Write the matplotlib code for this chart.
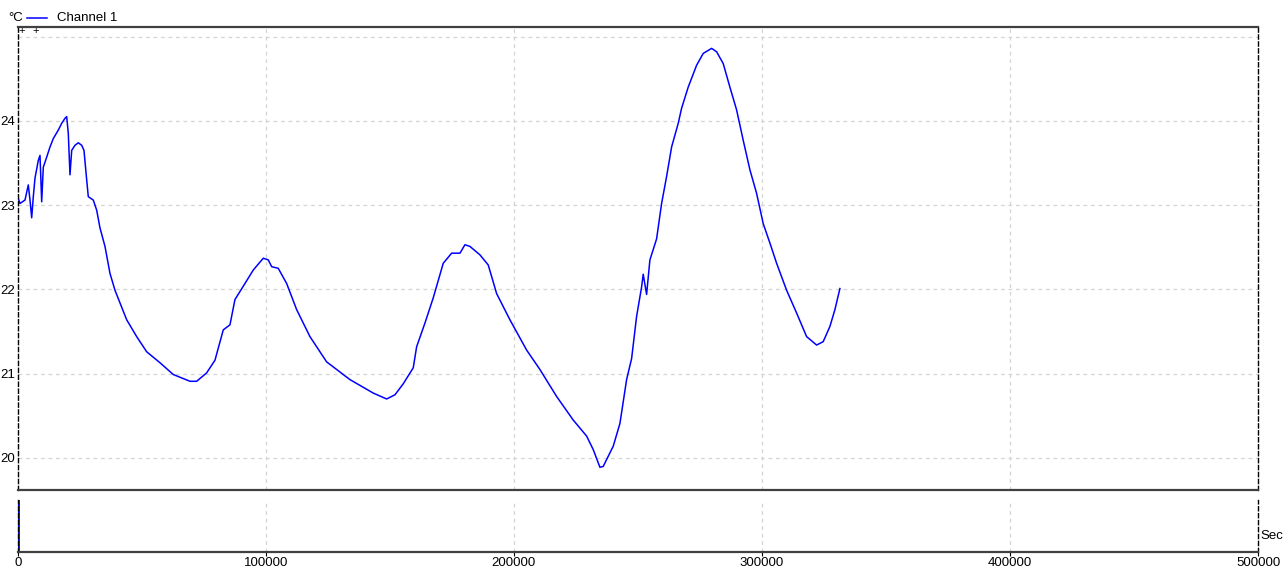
import matplotlib
matplotlib.use("Agg")
import matplotlib.pyplot as plt

plt.rcParams['font.family'] = ['Liberation Sans Narrow', 'Liberation Sans', 'DejaVu Sans']

# Channel 1 readings: time in seconds, temperature in deg C
time_s = [0, 900, 2940, 4270, 4960, 5640, 6290, 6970, 8300, 8990, 9670, 10320,
          11690, 13020, 14350, 16360, 17730, 19060, 19750, 20400, 21080, 21770,
          23090, 24430, 25800, 26720, 27810, 28460, 30470, 31840, 33170, 35190,
          37200, 39220, 41230, 43930, 47960, 52000, 57350, 62720, 69450, 72150,
          76180, 79520, 82870, 85570, 87580, 91610, 94960, 98990, 101000, 102380,
          105040, 108420, 112450, 117810, 124540, 133930, 143330, 148730, 152080,
          155420, 159450, 160820, 164160, 167510, 171540, 174930, 178280, 180290,
          182310, 186340, 189680, 193070, 198420, 205160, 210510, 217240, 223940,
          229340, 232000, 234700, 236030, 240070, 242770, 245460, 247480, 249490,
          251510, 252150, 253520, 254850, 257550, 259570, 261580, 263600, 266260,
          267630, 270290, 273680, 276340, 279720, 281740, 284400, 287100, 289800,
          292460, 295160, 297860, 300530, 303230, 305930, 309960, 313990, 318020,
          322050, 324710, 327410, 329430, 331440]
temp_c = [23.10, 23.02, 23.06, 23.24, 23.06, 22.85, 23.10, 23.32, 23.53, 23.59,
          23.04, 23.45, 23.57, 23.69, 23.79, 23.89, 23.97, 24.03, 24.05, 23.85,
          23.36, 23.65, 23.71, 23.74, 23.71, 23.65, 23.30, 23.10, 23.06, 22.94,
          22.73, 22.51, 22.19, 21.99, 21.84, 21.64, 21.44, 21.26, 21.13, 20.99,
          20.91, 20.91, 21.01, 21.16, 21.52, 21.58, 21.88, 22.07, 22.23, 22.37,
          22.35, 22.27, 22.25, 22.07, 21.76, 21.44, 21.14, 20.93, 20.77, 20.70,
          20.75, 20.88, 21.07, 21.32, 21.60, 21.90, 22.31, 22.43, 22.43, 22.53,
          22.51, 22.41, 22.29, 21.95, 21.64, 21.28, 21.05, 20.73, 20.45, 20.26,
          20.10, 19.89, 19.90, 20.14, 20.41, 20.93, 21.18, 21.68, 22.03, 22.18,
          21.94, 22.35, 22.60, 23.02, 23.34, 23.69, 23.97, 24.15, 24.40, 24.66,
          24.80, 24.86, 24.82, 24.68, 24.40, 24.13, 23.77, 23.42, 23.14, 22.78,
          22.55, 22.31, 21.99, 21.72, 21.44, 21.34, 21.38, 21.56, 21.76, 22.01]

# event marker in the lower strip
marker_x = [0, 0]
marker_y = [0, 1]

y_ticks = [20, 21, 22, 23, 24]
y_grid = [20, 21, 22, 23, 24, 25]
x_ticks = [0, 100000, 200000, 300000, 400000, 500000]

blue = '#0000ff'
grid_kw = dict(color='#d4d4d4', linestyle=(0, (3, 3)), linewidth=0.9)

fig = plt.figure(figsize=(12.88, 5.76), dpi=100)
ax = fig.add_axes([0.01374, 0.1493, 0.963, 0.8033])
ax2 = fig.add_axes([0.01374, 0.0422, 0.963, 0.0898], sharex=ax)

ax.plot(time_s, temp_c, color=blue, linewidth=1.1)
ax.set_xlim(0, 500000)
ax.set_ylim(19.62, 25.11)
ax.set_yticks(y_ticks)
ax.set_yticklabels([str(v) for v in y_ticks])
for g in y_grid:
    ax.axhline(g, **grid_kw, zorder=0)
for t in x_ticks[1:-1]:
    ax.axvline(t, **grid_kw, zorder=0)
    ax2.axvline(t, **grid_kw, zorder=0)
ax.tick_params(axis='y', length=0, pad=2, labelsize=9.5)
ax.tick_params(axis='x', length=0, labelbottom=False)

for a in (ax, ax2):
    for side in ('left', 'right'):
        a.spines[side].set_linestyle((0, (3, 2)))
        a.spines[side].set_color('black')
        a.spines[side].set_linewidth(1.0)
ax.spines['top'].set_color('#404040')
ax.spines['top'].set_linewidth(1.6)
ax.spines['bottom'].set_color('#404040')
ax.spines['bottom'].set_linewidth(1.6)

ax2.plot(marker_x, marker_y, color=blue, linewidth=2)
ax2.set_ylim(0, 1)
ax2.set_yticks([])
ax2.spines['top'].set_visible(False)
ax2.spines['bottom'].set_color('#404040')
ax2.spines['bottom'].set_linewidth(1.6)
ax2.set_xticks(x_ticks)
ax2.set_xticklabels([str(v) for v in x_ticks])
ax2.tick_params(axis='x', length=3, pad=1, labelsize=9.5, color='black')
ax2.text(1.002, 0.3, 'Sec', transform=ax2.transAxes, fontsize=9.5, ha='left', va='center')

# legend row and cursor marks
fig.text(0.0062, 0.969, '°C', fontsize=9.5, ha='left', va='center')
fig.add_artist(plt.Line2D([0.021, 0.0365], [0.969, 0.969], color=blue, linewidth=1.1))
fig.text(0.044, 0.969, 'Channel 1', fontsize=9.5, ha='left', va='center')
fig.text(0.0165, 0.946, '+', fontsize=8, ha='center', va='center')
fig.text(0.0280, 0.946, '+', fontsize=8, ha='center', va='center')

fig.savefig('out.png', dpi=100)
